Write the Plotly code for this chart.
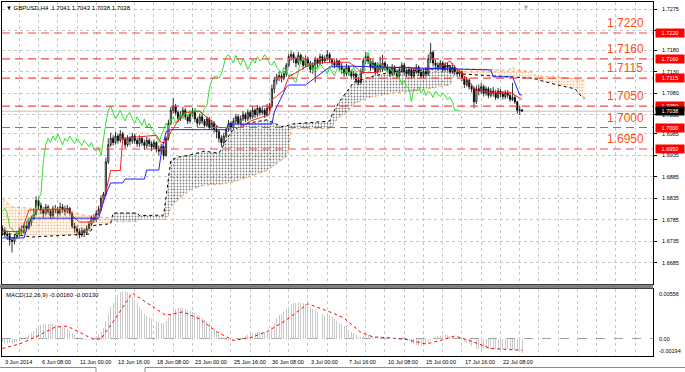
import plotly.graph_objects as go

# ---------------- data ----------------
symbol_header = "▼ GBPUSD,H4  1.7041 1.7043 1.7038 1.7038"
macd_header = "MACD(12,26,9) -0.00160 -0.00130"
first_open = 1.6765

close = [1.6760,1.6752,1.6748,1.6738,1.6735,1.6745,1.6752,1.6760,1.6756,1.6770,
         1.6766,1.6778,1.6788,1.6798,1.6830,1.6818,1.6808,1.6800,1.6815,1.6805,
         1.6795,1.6812,1.6808,1.6800,1.6815,1.6810,1.6805,1.6812,1.6800,1.6770,
         1.6765,1.6758,1.6750,1.6760,1.6755,1.6765,1.6775,1.6790,1.6785,1.6800,
         1.6810,1.6835,1.6845,1.6920,1.6960,1.6975,1.6965,1.6980,1.6970,1.6985,
         1.6972,1.6960,1.6975,1.6968,1.6980,1.6970,1.6962,1.6975,1.6965,1.6958,
         1.6970,1.6962,1.6955,1.6965,1.6950,1.6945,1.6955,1.6935,1.6975,1.7010,
         1.7040,1.7050,1.7035,1.7020,1.7030,1.7040,1.7025,1.7015,1.7030,1.7035,
         1.7020,1.7010,1.7025,1.7015,1.7005,1.7020,1.7000,1.7010,1.6995,1.6990,
         1.6975,1.6965,1.6980,1.6995,1.7010,1.7000,1.7015,1.7025,1.7010,1.7020,
         1.7030,1.7020,1.7035,1.7025,1.7040,1.7030,1.7045,1.7035,1.7040,1.7030,
         1.7045,1.7050,1.7090,1.7110,1.7118,1.7120,1.7115,1.7125,1.7145,1.7165,
         1.7170,1.7160,1.7150,1.7168,1.7155,1.7145,1.7160,1.7150,1.7135,1.7145,
         1.7158,1.7150,1.7165,1.7155,1.7160,1.7170,1.7158,1.7150,1.7145,1.7155,
         1.7140,1.7135,1.7125,1.7140,1.7130,1.7120,1.7125,1.7110,1.7105,1.7130,
         1.7155,1.7165,1.7155,1.7140,1.7150,1.7130,1.7145,1.7135,1.7150,1.7140,
         1.7135,1.7125,1.7140,1.7130,1.7120,1.7135,1.7145,1.7130,1.7125,1.7135,
         1.7120,1.7130,1.7140,1.7128,1.7120,1.7130,1.7125,1.7160,1.7175,1.7150,
         1.7145,1.7140,1.7150,1.7135,1.7145,1.7140,1.7130,1.7140,1.7130,1.7125,
         1.7130,1.7115,1.7100,1.7110,1.7095,1.7090,1.7060,1.7090,1.7085,1.7095,
         1.7080,1.7090,1.7075,1.7085,1.7080,1.7070,1.7085,1.7078,1.7072,1.7080,
         1.7075,1.7065,1.7070,1.7060,1.7040,1.7041,1.7038]
high = [1.6772,1.6768,1.6760,1.6755,1.6745,1.6752,1.6760,1.6768,1.6772,1.6778,
        1.6782,1.6790,1.6795,1.6812,1.6840,1.6838,1.6825,1.6815,1.6822,1.6820,
        1.6810,1.6818,1.6820,1.6815,1.6825,1.6822,1.6818,1.6820,1.6815,1.6805,
        1.6778,1.6772,1.6765,1.6768,1.6765,1.6772,1.6782,1.6795,1.6798,1.6808,
        1.6818,1.6842,1.6850,1.6930,1.6975,1.6988,1.6982,1.6990,1.6985,1.6994,
        1.6990,1.6978,1.6982,1.6980,1.6988,1.6985,1.6975,1.6982,1.6980,1.6972,
        1.6978,1.6975,1.6968,1.6972,1.6968,1.6958,1.6962,1.6958,1.6980,1.7018,
        1.7048,1.7069,1.7055,1.7040,1.7038,1.7048,1.7045,1.7030,1.7036,1.7046,
        1.7040,1.7025,1.7032,1.7034,1.7020,1.7026,1.7024,1.7018,1.7015,1.7005,
        1.6995,1.6982,1.6988,1.7002,1.7018,1.7015,1.7022,1.7032,1.7030,1.7028,
        1.7038,1.7035,1.7042,1.7040,1.7048,1.7045,1.7052,1.7050,1.7048,1.7045,
        1.7055,1.7057,1.7100,1.7118,1.7125,1.7130,1.7128,1.7132,1.7150,1.7172,
        1.7178,1.7175,1.7165,1.7176,1.7172,1.7160,1.7168,1.7165,1.7155,1.7152,
        1.7165,1.7162,1.7172,1.7170,1.7168,1.7180,1.7175,1.7162,1.7158,1.7162,
        1.7158,1.7150,1.7140,1.7148,1.7145,1.7135,1.7132,1.7128,1.7118,1.7138,
        1.7162,1.7176,1.7170,1.7160,1.7158,1.7152,1.7152,1.7165,1.7169,1.7155,
        1.7148,1.7140,1.7148,1.7145,1.7135,1.7142,1.7152,1.7150,1.7138,1.7142,
        1.7140,1.7138,1.7148,1.7145,1.7135,1.7138,1.7140,1.7170,1.7197,1.7180,
        1.7158,1.7152,1.7157,1.7155,1.7152,1.7150,1.7145,1.7150,1.7145,1.7138,
        1.7136,1.7132,1.7120,1.7118,1.7115,1.7102,1.7095,1.7098,1.7100,1.7104,
        1.7100,1.7096,1.7095,1.7092,1.7094,1.7088,1.7092,1.7090,1.7085,1.7087,
        1.7087,1.7082,1.7104,1.7075,1.7062,1.7050,1.7043]
low = [1.6748,1.6745,1.6738,1.6725,1.6709,1.6728,1.6740,1.6745,1.6750,1.6752,
       1.6760,1.6762,1.6770,1.6785,1.6795,1.6810,1.6798,1.6790,1.6795,1.6798,
       1.6788,1.6790,1.6800,1.6792,1.6795,1.6802,1.6795,1.6800,1.6795,1.6765,
       1.6755,1.6748,1.6742,1.6745,1.6745,1.6750,1.6760,1.6770,1.6778,1.6780,
       1.6795,1.6805,1.6828,1.6840,1.6915,1.6955,1.6958,1.6960,1.6962,1.6965,
       1.6965,1.6952,1.6955,1.6958,1.6962,1.6962,1.6955,1.6955,1.6958,1.6948,
       1.6952,1.6955,1.6945,1.6948,1.6942,1.6935,1.6938,1.6925,1.6932,1.6970,
       1.7005,1.7032,1.7028,1.7012,1.7015,1.7025,1.7018,1.7008,1.7010,1.7025,
       1.7012,1.7001,1.7005,1.7008,1.6998,1.7000,1.6994,1.6996,1.6988,1.6975,
       1.6965,1.6955,1.6960,1.6975,1.6990,1.6992,1.6995,1.7008,1.7005,1.7005,
       1.7015,1.7012,1.7015,1.7018,1.7020,1.7022,1.7025,1.7028,1.7030,1.7022,
       1.7025,1.7038,1.7045,1.7080,1.7100,1.7108,1.7105,1.7110,1.7118,1.7140,
       1.7155,1.7150,1.7140,1.7145,1.7148,1.7135,1.7140,1.7142,1.7127,1.7125,
       1.7105,1.7140,1.7145,1.7148,1.7150,1.7155,1.7150,1.7142,1.7138,1.7140,
       1.7132,1.7125,1.7118,1.7120,1.7122,1.7112,1.7112,1.7102,1.7099,1.7102,
       1.7125,1.7148,1.7148,1.7132,1.7135,1.7122,1.7125,1.7128,1.7130,1.7132,
       1.7128,1.7118,1.7120,1.7122,1.7115,1.7115,1.7128,1.7122,1.7118,1.7120,
       1.7115,1.7115,1.7125,1.7120,1.7115,1.7115,1.7118,1.7120,1.7150,1.7142,
       1.7135,1.7132,1.7135,1.7128,1.7130,1.7132,1.7125,1.7125,1.7122,1.7118,
       1.7118,1.7108,1.7092,1.7095,1.7088,1.7082,1.7045,1.7055,1.7075,1.7078,
       1.7072,1.7074,1.7068,1.7070,1.7072,1.7064,1.7066,1.7070,1.7065,1.7066,
       1.7068,1.7060,1.7062,1.7055,1.7032,1.7029,1.7038]

tenkan_bar = [0, 7, 9, 11, 28, 29, 32, 36, 38, 40, 43, 45, 49, 50, 64, 66, 68, 70, 73, 76,
              82, 87, 90, 99, 103, 111, 112, 117, 119, 124, 128, 136, 144, 147, 149, 156,
              157, 168, 174, 182, 186, 188, 192, 197, 203, 211, 215, 216]
tenkan_val = [1.6758, 1.6758, 1.6775, 1.6808, 1.6810, 1.6795, 1.6780, 1.6780, 1.6790, 1.6800,
              1.6850, 1.6900, 1.6900, 1.6975, 1.6982, 1.6965, 1.6965, 1.6990, 1.7015, 1.7035,
              1.7038, 1.7015, 1.7000, 1.7000, 1.7015, 1.7030, 1.7064, 1.7087, 1.7118, 1.7134,
              1.7148, 1.7152, 1.7152, 1.7140, 1.7128, 1.7128, 1.7140, 1.7140, 1.7135, 1.7140,
              1.7155, 1.7140, 1.7120, 1.7086, 1.7082, 1.7082, 1.7068, 1.7065]

kijun_bar = [0, 9, 10, 12, 40, 43, 45, 50, 51, 59, 60, 65, 66, 68, 70, 93, 94, 112, 113,
             118, 119, 126, 136, 143, 190, 203, 204, 212, 215, 216]
kijun_val = [1.6743, 1.6743, 1.6762, 1.6789, 1.6789, 1.6845, 1.6871, 1.6871, 1.6880, 1.6880,
             1.6901, 1.6901, 1.6940, 1.6990, 1.6995, 1.6995, 1.7008, 1.7008, 1.7036,
             1.7094, 1.7099, 1.7099, 1.7141, 1.7143, 1.7136, 1.7134, 1.7118, 1.7118, 1.7076, 1.7076]

cloud_bar = [0, 4, 12, 24, 30, 36, 38, 45, 46, 56, 57, 67, 68, 69, 70, 73, 78, 84, 90, 95,
             100, 110, 116, 118, 119, 120, 130, 136, 137, 138, 140, 144, 146, 153, 162, 174,
             182, 186, 188, 190, 204, 210, 212, 214, 220, 222, 230, 238, 241, 242]
span_a = [1.6752, 1.6752, 1.6745, 1.6748, 1.6750, 1.6752, 1.6772, 1.6776, 1.6801, 1.6801,
          1.6795, 1.6796, 1.6838, 1.6885, 1.6924, 1.6931, 1.6936, 1.6945, 1.6940, 1.6990,
          1.7008, 1.7018, 1.7002, 1.7004, 1.7005, 1.7008, 1.7012, 1.7015, 1.7030, 1.7040,
          1.7060, 1.7090, 1.7106, 1.7118, 1.7130, 1.7134, 1.7138, 1.7145, 1.7135, 1.7125,
          1.7120, 1.7118, 1.7118, 1.7117, 1.7115, 1.7112, 1.7100, 1.7090, 1.7070, 1.7068]
span_b = [1.6835, 1.6815, 1.6812, 1.6812, 1.6800, 1.6795, 1.6792, 1.6790, 1.6781, 1.6781,
          1.6786, 1.6786, 1.6786, 1.6795, 1.6815, 1.6831, 1.6855, 1.6866, 1.6868, 1.6872,
          1.6880, 1.6900, 1.6925, 1.6932, 1.6950, 1.6997, 1.6997, 1.6998, 1.7000, 1.7012,
          1.7023, 1.7040, 1.7055, 1.7071, 1.7080, 1.7087, 1.7095, 1.7099, 1.7125, 1.7137,
          1.7135, 1.7133, 1.7141, 1.7133, 1.7131, 1.7120, 1.7118, 1.7114, 1.7110, 1.7110]

macd_main = [-0.0004,-0.0005,-0.0005,-0.0005,-0.0006,-0.0005,-0.0004,-0.0003,-0.0002,
             0.0000,0.0002,0.0004, 0.0006,0.0009,0.0012,
             0.0014,0.0015,0.0016,0.0016,0.0016,0.0016,0.0016,0.0015,0.0015,0.0014,
             0.0013,0.0012,0.0011,0.0009, 0.0006,0.0004,0.0002,0.0000,-0.0001,
             -0.0002,-0.0002,-0.0001,0.0000,0.0001, 0.0003,0.0005,0.0008,0.0012,
             0.0020,0.0028,0.0035,0.0040, 0.0045,0.0049,0.0052,0.0053,0.0053,0.0052,0.0050,
             0.0047,0.0043,0.0040,0.0036,0.0032,0.0028,0.0025,
             0.0023,0.0022,0.0021,0.0020,0.0019,0.0018,0.0017,
             0.0020,0.0024,0.0028,0.0031,0.0033,0.0034,0.0034,0.0034,
             0.0033,0.0032,0.0031,0.0030,0.0029,0.0027,0.0025,
             0.0023,0.0021,0.0019,0.0017,0.0014,0.0011,0.0008,0.0005,0.0002,0.0000,
             -0.0001,-0.0002,-0.0002,-0.0001,0.0000,0.0001,0.0001,0.0002,
             0.0003,0.0004,0.0005,0.0006,0.0006,0.0007,0.0007,0.0008,0.0008,0.0008,0.0009,
             0.0013,0.0018,0.0023,0.0026,0.0028,0.0030,0.0033,
             0.0036,0.0039,0.0040,0.0040,0.0041,0.0040,0.0040,0.0039,0.0037,0.0035,0.0033,
             0.0032,0.0030,0.0029,0.0028,0.0027,0.0027,0.0026,0.0024,0.0022,0.0020,0.0018,0.0016,0.0014,
             0.0012,0.0010,0.0008,0.0006,0.0004,0.0002,0.0002,0.0003,
             0.0004,0.0004,0.0003,0.0003,0.0002,0.0002,0.0002,0.0002,0.0001,0.0001,0.0001,
             0.0000,0.0000,0.0000,-0.0001,0.0000,-0.0001,-0.0002,-0.0003,
             -0.0005,-0.0006,-0.0007,-0.0008,-0.0008,-0.0007,-0.0006,-0.0004,
             -0.0001,0.0001,0.0002,0.0003,0.0003,0.0004,0.0004,0.0004,0.0003,0.0003,0.0002,0.0001,0.0000,
             -0.0002,-0.0004,-0.0005,-0.0006,-0.0008,-0.0010,-0.0011,-0.0011,-0.0011,-0.0011,
             -0.0011,-0.0011,-0.0011,-0.0011,-0.0011,-0.0012,-0.0012,-0.0012,-0.0012,-0.0012,
             -0.0012,-0.0013,-0.0013,-0.0014,-0.0015,-0.0016]

sig_bar = [0, 7, 14, 22, 27, 32, 38, 41, 46, 54, 61, 68, 75, 82, 89, 96, 103, 110, 117, 127,
           137, 142, 149, 154, 161, 168, 176, 182, 188, 194, 203, 216]
sig_val = [-0.0011, -0.0006, 0.0002, 0.0013, 0.0014, 0.0007, -0.0001, 0.0000, 0.0019, 0.0051,
           0.0038, 0.0026, 0.0030, 0.0022, 0.0008, -0.0002, 0.0001, 0.0008, 0.0019, 0.0039,
           0.0029, 0.0023, 0.0007, 0.0002, 0.0001, -0.0001, -0.0006, -0.0002, 0.0003, -0.0002,
           -0.0011, -0.0013]

levels = [1.7220, 1.7160, 1.7115, 1.7050, 1.7000, 1.6950]
last_price = 1.7038
price_ticks = [1.7275, 1.7225, 1.7180, 1.7130, 1.7080, 1.7030, 1.6985, 1.6935,
               1.6885, 1.6835, 1.6785, 1.6735, 1.6685, 1.6635]
macd_labels = [0.00556, 0.0, -0.00194]
macd_label_text = ["0.00556", "0.00", "-0.00194"]
date_text = ["3 Jun 2014", "6 Jun 08:00", "11 Jun 00:00", "13 Jun 16:00", "18 Jun 08:00",
             "23 Jun 00:00", "25 Jun 16:00", "30 Jun 08:00", "3 Jul 00:00", "7 Jul 16:00",
             "10 Jul 08:00", "15 Jul 00:00", "17 Jul 16:00", "22 Jul 08:00"]
date_bar = [0, 15, 31, 47, 63, 79, 95, 111, 127, 143, 159, 175, 191, 207]
chikou_shift = 26
shift_marker_bar = 217.5

# ---------------- figure ----------------
W, H = 685, 372
ML, MR, MT, MB = 2, 32, 2, 16
PH = H - MT - MB
PW = W - ML - MR


def pyf(px):
    return (H - MB - px) / PH


def pxf(px):
    return (px - ML) / PW


n = len(close)
bars = list(range(n))
opens = [first_open] + close[:-1]
FONT = "Liberation Sans"
ORANGE = "#F4A460"

fig = go.Figure()

# cloud fills (split into runs by which span is on top)
cols = []
for k in range(len(cloud_bar) - 1):
    cols.append("o" if span_b[k] + span_b[k + 1] >= span_a[k] + span_a[k + 1] else "k")
runs = []
s = 0
for k in range(1, len(cols)):
    if cols[k] != cols[k - 1]:
        runs.append((s, k, cols[k - 1]))
        s = k
runs.append((s, len(cols), cols[-1]))
for s, e, c in runs:
    xs = cloud_bar[s:e + 1]
    if c == "o":
        pat = dict(shape=".", fgcolor="#F5902A", bgcolor="rgba(0,0,0,0)", size=3, solidity=0.42)
    else:
        pat = dict(shape=".", fgcolor="#000000", bgcolor="rgba(0,0,0,0)", size=3, solidity=0.28)
    fig.add_trace(go.Scatter(x=xs, y=span_a[s:e + 1], mode="lines", line=dict(width=0),
                             hoverinfo="skip", showlegend=False))
    fig.add_trace(go.Scatter(x=xs, y=span_b[s:e + 1], mode="lines", line=dict(width=0),
                             fill="tonexty", fillcolor="rgba(0,0,0,0)", fillpattern=pat,
                             hoverinfo="skip", showlegend=False))

fig.add_trace(go.Scatter(x=cloud_bar, y=span_b, mode="lines",
                         line=dict(color=ORANGE, width=1, dash="dot"), hoverinfo="skip"))
fig.add_trace(go.Scatter(x=cloud_bar, y=span_a, mode="lines",
                         line=dict(color="#000000", width=1, dash="dot"), hoverinfo="skip"))

# candles
fig.add_trace(go.Candlestick(x=bars, open=opens, high=high, low=low, close=close,
                             increasing=dict(line=dict(color="black", width=0.8), fillcolor="white"),
                             decreasing=dict(line=dict(color="black", width=0.8), fillcolor="black"),
                             whiskerwidth=0, hoverinfo="skip", showlegend=False))

# chikou, tenkan, kijun
fig.add_trace(go.Scatter(x=[b - chikou_shift for b in bars], y=close, mode="lines",
                         line=dict(color="#30E030", width=1), hoverinfo="skip"))
fig.add_trace(go.Scatter(x=tenkan_bar, y=tenkan_val, mode="lines",
                         line=dict(color="#FF2020", width=1), hoverinfo="skip"))
fig.add_trace(go.Scatter(x=kijun_bar, y=kijun_val, mode="lines",
                         line=dict(color="#2020FF", width=1), hoverinfo="skip"))

# MACD
fig.add_trace(go.Bar(x=bars, y=macd_main, marker=dict(color="#C8C8C8", line=dict(width=0)),
                     width=0.4, xaxis="x2", yaxis="y2", hoverinfo="skip"))
fig.add_trace(go.Scatter(x=sig_bar, y=sig_val, mode="lines", xaxis="x2", yaxis="y2",
                         line=dict(color="#FF0000", width=1, dash="dot"), hoverinfo="skip"))

xr = [-0.17, 270.4]
grid_bars = list(range(7, 271, 8))
grid = dict(showgrid=True, gridcolor="#C8C8C8", griddash="dot", gridwidth=1)

fig.update_layout(
    width=W, height=H, margin=dict(l=ML, r=MR, t=MT, b=MB),
    paper_bgcolor="white", plot_bgcolor="white", showlegend=False,
    font=dict(family=FONT, size=6, color="black"),
    xaxis=dict(domain=[0, 1], anchor="y", range=xr, tickvals=grid_bars, showticklabels=False,
               ticks="", zeroline=False, showline=True, mirror=True, linecolor="#000",
               linewidth=1, rangeslider=dict(visible=False), **grid),
    yaxis=dict(domain=[pyf(284), 1], anchor="x", range=[1.66357, 1.72922], side="right",
               tickvals=price_ticks, ticktext=["%.4f" % v for v in price_ticks],
               tickfont=dict(size=5.5, family=FONT), ticks="outside", ticklen=3,
               tickcolor="#000", ticklabelstandoff=4, zeroline=False, showline=True,
               mirror=True, linecolor="#000", linewidth=1, **grid),
    xaxis2=dict(domain=[0, 1], anchor="y2", range=xr, matches="x", tickvals=grid_bars,
                showticklabels=False, ticks="", zeroline=False, showline=True, mirror=True,
                linecolor="#000", linewidth=1, **grid),
    yaxis2=dict(domain=[0, pyf(289)], anchor="x2", range=[-0.00194, 0.00556], side="right",
                tickvals=[0.0], showticklabels=False, ticks="", zeroline=False,
                showline=True, mirror=True, linecolor="#000", linewidth=1,
                showgrid=True, gridcolor="#A0A0A0", griddash="dash", gridwidth=1),
    bargap=0,
)

shapes = []
for lv in levels:
    shapes.append(dict(type="line", xref="paper", x0=0, x1=1, yref="y", y0=lv, y1=lv,
                       line=dict(color="#F24A4A", width=1.2, dash="8px,5px"), layer="above"))
shapes.append(dict(type="line", xref="paper", x0=0, x1=1, yref="y", y0=last_price, y1=last_price,
                   line=dict(color="#C0C0C0", width=1), layer="below"))
shapes.append(dict(type="rect", xref="paper", x0=-0.003, x1=1.0, yref="paper",
                   y0=pyf(288.5), y1=pyf(284.5), fillcolor="#808080", line=dict(width=0)))
# tab strip at the very bottom of the window
tab_line = dict(color="#8C8C8C", width=1)
shapes.append(dict(type="line", xref="paper", yref="paper", x0=pxf(0), x1=pxf(96),
                   y0=pyf(367.5), y1=pyf(367.5), line=tab_line))
shapes.append(dict(type="line", xref="paper", yref="paper", x0=pxf(145), x1=pxf(685),
                   y0=pyf(367.5), y1=pyf(367.5), line=tab_line))
shapes.append(dict(type="line", xref="paper", yref="paper", x0=pxf(96), x1=pxf(96),
                   y0=pyf(367.5), y1=pyf(372), line=tab_line))
shapes.append(dict(type="line", xref="paper", yref="paper", x0=pxf(145), x1=pxf(145),
                   y0=pyf(367.5), y1=pyf(372), line=tab_line))
fig.update_layout(shapes=shapes)

ann = []
for lv in levels:
    ann.append(dict(xref="x", x=250.5, yref="y", y=lv, xanchor="left", yanchor="bottom",
                    yshift=1, text="%.4f" % lv, showarrow=False,
                    font=dict(family=FONT, size=12, color="#FF4F14")))
    ann.append(dict(xref="paper", x=1, yref="y", y=lv, xanchor="left", yanchor="middle",
                    xshift=2, text="%.4f" % lv, showarrow=False, bgcolor="#FF0000",
                    width=28, height=8, borderpad=0,
                    font=dict(family=FONT, size=5.5, color="white")))
ann.append(dict(xref="paper", x=1, yref="y", y=last_price, xanchor="left", yanchor="middle",
                xshift=2, text="%.4f" % last_price, showarrow=False, bgcolor="#000000",
                width=28, height=8, borderpad=0, font=dict(family=FONT, size=5.5, color="white")))
for v, t in zip(macd_labels, macd_label_text):
    ya = "top" if v > 0.001 else ("bottom" if v < -0.001 else "middle")
    ann.append(dict(xref="paper", x=1, yref="y2", y=v, xanchor="left", yanchor=ya, xshift=4,
                    text=t, showarrow=False, font=dict(family=FONT, size=5.5, color="black")))
for b, t in zip(date_bar, date_text):
    ann.append(dict(xref="x", x=b, yref="paper", y=0, xanchor="left", yanchor="top", yshift=-1,
                    xshift=1, text=t, showarrow=False, font=dict(family=FONT, size=5.5, color="black")))
ann.append(dict(xref="paper", x=0, yref="paper", y=1, xanchor="left", yanchor="top", xshift=2,
                yshift=-1, text=symbol_header, showarrow=False,
                font=dict(family=FONT, size=6, color="black")))
ann.append(dict(xref="paper", x=0, yref="paper", y=pyf(289), xanchor="left", yanchor="top",
                xshift=2, yshift=-1, text=macd_header, showarrow=False,
                font=dict(family=FONT, size=6, color="black")))
ann.append(dict(xref="x", x=shift_marker_bar, yref="paper", y=1, xanchor="center", yanchor="top",
                yshift=0, text="▼", showarrow=False,
                font=dict(family="DejaVu Sans", size=5, color="#A0A0A0")))
fig.update_layout(annotations=ann)

fig.write_html("out.html", config={"displayModeBar": False, "staticPlot": True},
               post_script="document.body.style.margin='0px';document.body.style.padding='0px';")
